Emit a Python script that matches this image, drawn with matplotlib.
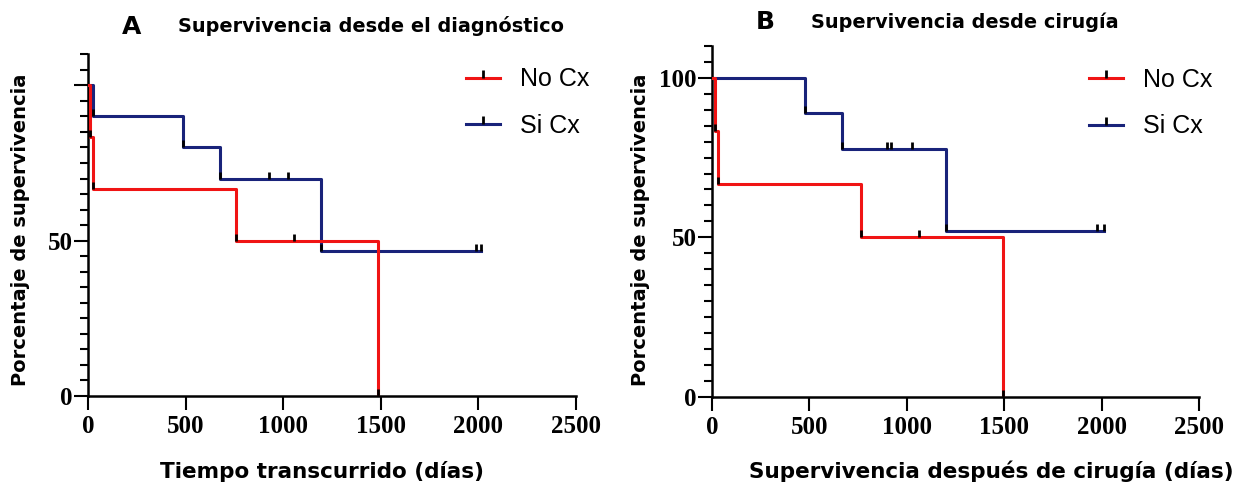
import matplotlib
matplotlib.use("Agg")
import matplotlib.pyplot as plt
from matplotlib.lines import Line2D
from matplotlib.ticker import MultipleLocator

# Panel A: survival since diagnosis
a_no_t = [0, 12, 26, 758, 1484]
a_no_s = [100, 83.3, 66.7, 50, 0]
a_no_cens_t = [1057]
a_no_cens_s = [50]
a_si_t = [0, 28, 486, 674, 1194, 2014]
a_si_s = [100, 90, 80, 70, 46.7, 46.7]
a_si_cens_t = [929, 1025, 1990, 2014]
a_si_cens_s = [70, 70, 46.7, 46.7]

# Panel B: survival since surgery
b_no_t = [0, 16, 33, 765, 1492]
b_no_s = [100, 83.3, 66.7, 50, 0]
b_no_cens_t = [1065]
b_no_cens_s = [50]
b_si_t = [0, 477, 667, 1202, 2012]
b_si_s = [100, 88.9, 77.8, 51.9, 51.9]
b_si_cens_t = [896, 919, 1027, 1977, 2012]
b_si_cens_s = [77.8, 77.8, 77.8, 51.9, 51.9]

labels = ["No Cx", "Si Cx"]
RED = "#f01414"
BLUE = "#19237a"
TICKFONT = dict(family="Liberation Serif", weight="bold", fontsize=18)

fig = plt.figure(figsize=(12.5, 4.87), dpi=100)
ax1 = fig.add_axes([0.0704, 0.1869, 0.3904, 0.7016])
ax2 = fig.add_axes([0.5696, 0.1854, 0.3896, 0.7201])


def draw_panel(ax, no_t, no_s, no_ct, no_cs, si_t, si_s, si_ct, si_cs, label_100, leg_xy):
    ax.step(si_t, si_s, where="post", color=BLUE, lw=2.2, zorder=3)
    ax.step(no_t, no_s, where="post", color=RED, lw=2.2, zorder=4)
    # event and censor marks
    for t, s in [(no_t[1:], no_s[1:]), (si_t[1:-1], si_s[1:-1]),
                 (no_ct, no_cs), (si_ct, si_cs)]:
        ax.plot(t, s, ls="none", marker=2, color="black", ms=5, mew=2, zorder=5)

    ax.set_xlim(0, 2500)
    ax.set_ylim(0, 110)
    ax.spines["top"].set_visible(False)
    ax.spines["right"].set_visible(False)
    for sp in ("left", "bottom"):
        ax.spines[sp].set_linewidth(1.8)
    ax.yaxis.set_minor_locator(MultipleLocator(5))
    ax.tick_params(axis="x", which="major", length=10, width=1.5, direction="out", pad=4)
    ax.tick_params(axis="y", which="major", length=10, width=1.5, direction="out", pad=1)
    ax.tick_params(axis="y", which="minor", length=5.5, width=1.5, direction="out")
    ax.set_xticks([0, 500, 1000, 1500, 2000, 2500])
    ax.set_xticklabels(["0", "500", "1000", "1500", "2000", "2500"], **TICKFONT)
    ax.set_yticks([0, 50, 100])
    ax.set_yticklabels(["0", "50", "100" if label_100 else ""], **TICKFONT)

    handles = [(Line2D([], [], color=RED, lw=2.2),
                Line2D([], [], ls="none", marker=2, color="black", ms=6, mew=2)),
               (Line2D([], [], color=BLUE, lw=2.2),
                Line2D([], [], ls="none", marker=2, color="black", ms=6, mew=2))]
    ax.legend(handles, labels, loc="upper left", bbox_to_anchor=leg_xy,
              frameon=False, prop={"family": "Liberation Sans", "size": 18},
              handlelength=1.36, labelspacing=0.9, handletextpad=0.8,
              borderpad=0, borderaxespad=0)


draw_panel(ax1, a_no_t, a_no_s, a_no_cens_t, a_no_cens_s,
           a_si_t, a_si_s, a_si_cens_t, a_si_cens_s, False, (0.775, 0.962))
draw_panel(ax2, b_no_t, b_no_s, b_no_cens_t, b_no_cens_s,
           b_si_t, b_si_s, b_si_cens_t, b_si_cens_s, True, (0.774, 0.938))

ax1.set_xlabel("Tiempo transcurrido (días)", fontsize=15.5, weight="bold")
ax1.xaxis.set_label_coords(0.48, -0.19)
ax1.set_ylabel("Porcentaje de supervivencia", fontsize=14, weight="bold")
ax1.yaxis.set_label_coords(-0.118, 0.486)
ax2.set_xlabel("Supervivencia después de cirugía (días)", fontsize=15.5, weight="bold")
ax2.xaxis.set_label_coords(0.574, -0.183)
ax2.set_ylabel("Porcentaje de supervivencia", fontsize=14, weight="bold")
ax2.yaxis.set_label_coords(-0.127, 0.475)

fig.text(132 / 1250, 1 - 27.5 / 487, "A", fontsize=18, weight="bold",
         ha="center", va="center")
fig.text(178 / 1250, 1 - 26 / 487, "Supervivencia desde el diagnóstico",
         fontsize=13.9, weight="bold", ha="left", va="center")
fig.text(765 / 1250, 1 - 22 / 487, "B", fontsize=18, weight="bold",
         ha="center", va="center")
fig.text(811 / 1250, 1 - 22 / 487, "Supervivencia desde cirugía",
         fontsize=13.9, weight="bold", ha="left", va="center")

fig.savefig("out.png", dpi=100)
